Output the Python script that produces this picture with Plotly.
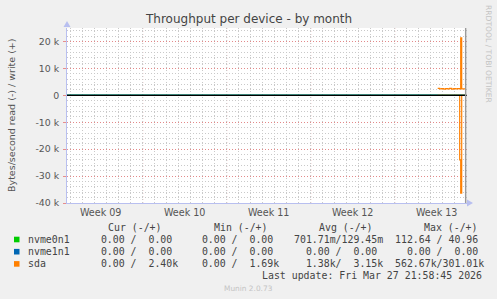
import plotly.graph_objects as go

# ---------------- data ----------------
title = "Throughput per device - by month"
y_title = "Bytes/second read (-) / write (+)"
x_range = ["2026-02-22 16:36", "2026-03-28 00:36"]
week_starts = ["2026-03-01", "2026-03-08", "2026-03-15", "2026-03-22"]
week_label_pos = ["2026-02-25 12:00", "2026-03-04 12:00", "2026-03-11 12:00",
                  "2026-03-18 12:00", "2026-03-25 12:00"]
week_labels = ["Week 09", "Week 10", "Week 11", "Week 12", "Week 13"]
y_tickvals = [20000, 10000, 0, -10000, -20000, -30000, -40000]
y_ticktext = ["20 k", "10 k", "0", "-10 k", "-20 k", "-30 k", "-40 k"]
y_range = [-40000, 25000]

nvme_times = ["2026-02-22 16:00", "2026-03-27 22:00"]
nvme0n1_write = [0, 0]
nvme0n1_read = [0, 0]
nvme1n1_write = [0, 0]
nvme1n1_read = [0, 0]

sda_times = ["2026-03-25 14:00", "2026-03-25 18:00", "2026-03-25 22:00",
             "2026-03-26 02:00", "2026-03-26 06:00", "2026-03-26 10:00",
             "2026-03-26 14:00", "2026-03-26 18:00", "2026-03-26 22:00",
             "2026-03-27 02:00", "2026-03-27 06:00", "2026-03-27 10:00",
             "2026-03-27 12:00", "2026-03-27 14:00", "2026-03-27 16:00",
             "2026-03-27 20:00", "2026-03-27 22:00"]
sda_write = [2600, 2400, 2500, 2300, 2500, 2400, 2600, 2300, 2500,
             2400, 2500, 2400, 21300, 2400, 2400, 2400, 2400]
sda_read = [0, 0, 0, 0, 0, 0, 0, 0, 0,
            0, 0, 24000, 36300, 0, 0, 0, 0]

last_update_time = "2026-03-27 21:58:45"
last_update_text = "Last update: Fri Mar 27 21:58:45 2026"

series_names = ["nvme0n1", "nvme1n1", "sda"]
series_colors = ["#00cc00", "#0066b3", "#ff8000"]
cur_read = ["0.00", "0.00", "0.00"]
cur_write = ["0.00", "0.00", "2.40k"]
min_read = ["0.00", "0.00", "0.00"]
min_write = ["0.00", "0.00", "1.69k"]
avg_read = ["701.71m", "0.00", "1.38k"]
avg_write = ["129.45m", "0.00", "3.15k"]
max_read = ["112.64", "0.00", "562.67k"]
max_write = ["40.96", "0.00", "301.01k"]
col_headers = ["Cur (-/+)", "Min (-/+)", "Avg (-/+)", "Max (-/+)"]

# ---------------- layout helpers ----------------
W, H = 497, 299
L, R, T, B = 67, 30, 28, 96
PW, PH = W - L - R, H - T - B


def px(x):
    return (x - L) / PW


def py(y):
    return (H - B - y) / PH


def cell(s):
    num = s.rstrip("kmM")
    suf = s[len(num):] or " "
    return f"{num:>6}{suf}"


def pair(r, w):
    return (cell(r) + "/" + cell(w)).replace(" ", "\u00a0")


fig = go.Figure()

traces = [
    ("nvme0n1", nvme_times, nvme0n1_read, nvme0n1_write, series_colors[0]),
    ("nvme1n1", nvme_times, nvme1n1_read, nvme1n1_write, series_colors[1]),
    ("sda", sda_times, sda_read, sda_write, series_colors[2]),
]
for name, t, rd, wr, col in traces:
    fig.add_trace(go.Scatter(x=t, y=[-v for v in rd], mode="lines", name=name,
                             line=dict(color=col, width=1.2, shape="hv"),
                             showlegend=False, hoverinfo="skip"))
    fig.add_trace(go.Scatter(x=t, y=wr, mode="lines", name=name,
                             line=dict(color=col, width=1.2, shape="hv"),
                             showlegend=False, hoverinfo="skip"))

grid_grey = "#c9c9c9"
grid_red = "rgba(230,130,130,0.9)"
axis_col = "#b8bff0"
txt = "#555555"

fig.update_layout(
    width=W, height=H,
    margin=dict(l=L, r=R, t=T, b=B, pad=0),
    paper_bgcolor="#f0f0f0", plot_bgcolor="#ffffff",
    showlegend=False,
    font=dict(family="DejaVu Sans", color=txt, size=9.5),
    xaxis=dict(type="date", range=x_range, tickmode="array",
               tickvals=week_label_pos, ticktext=week_labels,
               showgrid=False, zeroline=False, ticks="",
               showline=True, linecolor=axis_col, linewidth=1,
               tickfont=dict(size=9.6, color=txt),
               minor=dict(tickmode="linear", tick0="2026-02-22", dtick=86400000,
                          showgrid=True, gridcolor=grid_grey, griddash="1px,2px",
                          gridwidth=1)),
    yaxis=dict(range=y_range, tickmode="array", tickvals=y_tickvals,
               ticktext=y_ticktext, showgrid=True, gridcolor=grid_red,
               griddash="1px,2px", gridwidth=1, zeroline=False,
               ticks="outside", ticklen=3, tickcolor=grid_red,
               showline=True, linecolor=axis_col, linewidth=1,
               tickfont=dict(size=9.4, color=txt), ticklabelstandoff=2,
               minor=dict(tickmode="linear", tick0=0, dtick=2000, showgrid=True,
                          gridcolor=grid_grey, griddash="1px,2px", gridwidth=1)),
)

shapes = []
for ws in week_starts:
    shapes.append(dict(type="line", xref="x", yref="paper", x0=ws, x1=ws, y0=0, y1=1,
                       line=dict(color=grid_red, width=1, dash="1px,2px"), layer="between"))
# zero rule
shapes.append(dict(type="line", xref="paper", yref="y", x0=0, x1=1, y0=0, y1=0,
                   line=dict(color="#000000", width=1.2), layer="above"))
# now marker
shapes.append(dict(type="line", xref="x", yref="paper", x0=last_update_time,
                   x1=last_update_time, y0=0, y1=1,
                   line=dict(color="#9a9a9a", width=1.5), layer="above"))
# axis arrows
shapes.append(dict(type="path", xref="paper", yref="paper",
                   path=f"M {px(63.5)} {py(27)} L {px(70.5)} {py(27)} L {px(67)} {py(21)} Z",
                   fillcolor=axis_col, line=dict(width=0)))
shapes.append(dict(type="path", xref="paper", yref="paper",
                   path=f"M {px(467)} {py(199.5)} L {px(467)} {py(206.5)} L {px(473)} {py(203)} Z",
                   fillcolor=axis_col, line=dict(width=0)))
# legend squares
row_y = [239.5, 251.7, 263.9]
for i, col in enumerate(series_colors):
    shapes.append(dict(type="rect", xref="paper", yref="paper",
                       x0=px(14), x1=px(19.5), y0=py(row_y[i] + 2.8), y1=py(row_y[i] - 2.8),
                       fillcolor=col, line=dict(width=0)))
fig.update_layout(shapes=shapes)

ann = []
mono = dict(family="DejaVu Sans Mono", size=9.9, color="#444444")


def add(x, y, text, font, xanchor="left", **kw):
    ann.append(dict(x=px(x), y=py(y), xref="paper", yref="paper", text=text,
                    showarrow=False, xanchor=xanchor, yanchor="middle", font=font,
                    borderpad=0, **kw))


add(248.5, 19, title, dict(family="DejaVu Sans", size=12, color="#444444"), xanchor="center")
add(11, 115, y_title, dict(family="DejaVu Sans", size=9.5, color=txt), xanchor="center",
    textangle=-90)
add(489, 54, "RRDTOOL / TOBI OETIKER", dict(family="DejaVu Sans", size=7.6, color="#c4c4c4"),
    xanchor="center", textangle=90)
add(248, 288, "Munin 2.0.73", dict(family="DejaVu Sans", size=7.4, color="#c4c4c4"),
    xanchor="center")

header_x = [107.3, 212.7, 317.7, 422.7]
for hx, h in zip(header_x, col_headers):
    add(hx, 227.5, h.replace(" ", "\u00a0"), mono)

cell_x = [87.6, 189.3, 292.7, 394.3]
for i, name in enumerate(series_names):
    add(26.7, row_y[i], name, mono)
    vals = [pair(cur_read[i], cur_write[i]), pair(min_read[i], min_write[i]),
            pair(avg_read[i], avg_write[i]), pair(max_read[i], max_write[i])]
    for cx, v in zip(cell_x, vals):
        add(cx, row_y[i], v, mono)
add(483, 275.9, last_update_text.replace(" ", "\u00a0"), mono, xanchor="right")

fig.update_layout(annotations=ann)
fig.write_html("out.html")
